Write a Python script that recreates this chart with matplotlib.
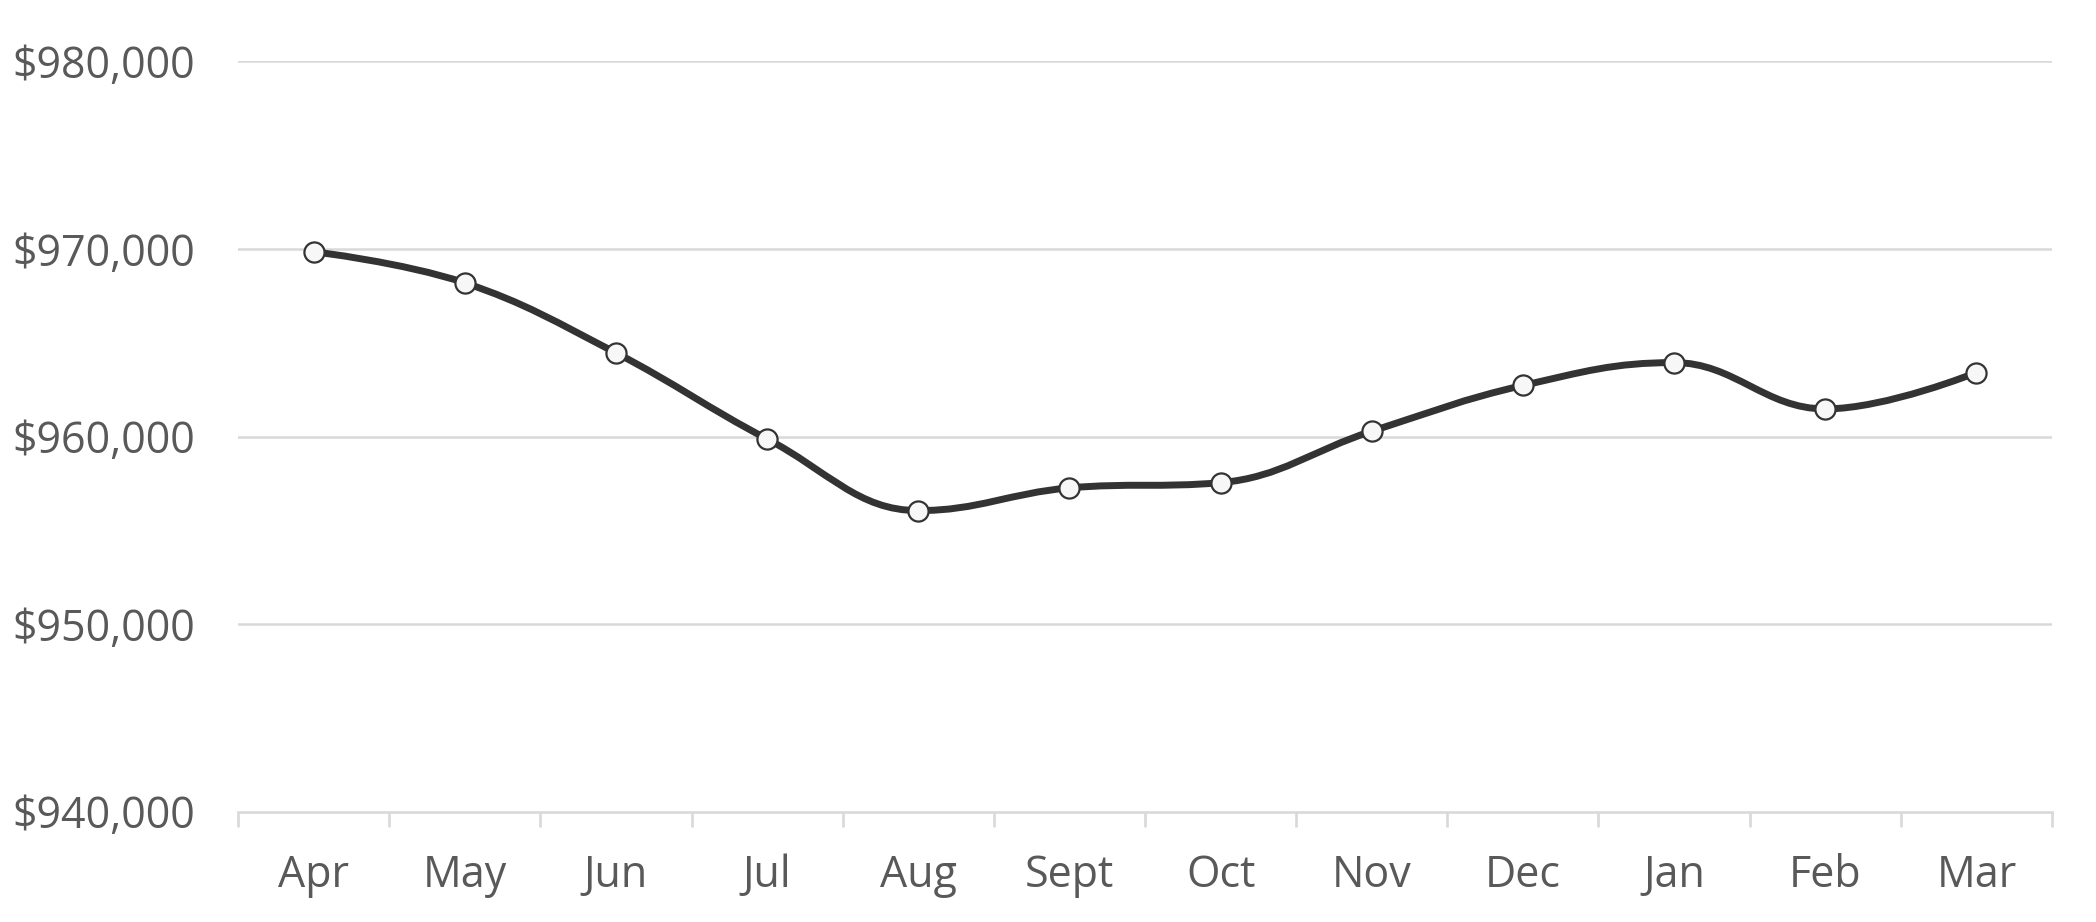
import matplotlib
matplotlib.use("Agg")
import matplotlib.pyplot as plt
from matplotlib.path import Path
from matplotlib.patches import PathPatch
from matplotlib.ticker import FuncFormatter, FixedLocator

months = ["Apr", "May", "Jun", "Jul", "Aug", "Sept", "Oct", "Nov", "Dec", "Jan", "Feb", "Mar"]
values = [969850, 968190, 964460, 959870, 956050, 957260, 957540, 960280, 962720, 963940, 961470, 963410]
y_ticks = [940000, 950000, 960000, 970000, 980000]

plt.rcParams['font.family'] = ['Open Sans', 'DejaVu Sans']

W, H, DPI = 2096, 922, 100
fig = plt.figure(figsize=(W / DPI, H / DPI), dpi=DPI)
left, right, top, bottom = 238, 2052, 61.3, 811.7
ax = fig.add_axes([left / W, 1 - bottom / H, (right - left) / W, (bottom - top) / H])

xs = list(range(len(values)))

# Highcharts-style spline
def spline_path(x, y, smoothing=1.5):
    denom = smoothing + 1
    n = len(x)
    rc = [None] * n
    verts = [(x[0], y[0])]
    codes = [Path.MOVETO]
    for i in range(1, n):
        px, py = x[i], y[i]
        lcx, lcy = px, py
        if i < n - 1:
            lx, ly, nx, ny = x[i - 1], y[i - 1], x[i + 1], y[i + 1]
            lcx = (smoothing * px + lx) / denom
            lcy = (smoothing * py + ly) / denom
            rcx = (smoothing * px + nx) / denom
            rcy = (smoothing * py + ny) / denom
            corr = 0
            if rcx != lcx:
                corr = (rcy - lcy) * (rcx - px) / (rcx - lcx) + py - rcy
            lcy += corr
            rcy += corr
            if lcy > ly and lcy > py:
                lcy = max(ly, py); rcy = 2 * py - lcy
            elif lcy < ly and lcy < py:
                lcy = min(ly, py); rcy = 2 * py - lcy
            if rcy > ny and rcy > py:
                rcy = max(ny, py); lcy = 2 * py - rcy
            elif rcy < ny and rcy < py:
                rcy = min(ny, py); lcy = 2 * py - rcy
            rc[i] = (rcx, rcy)
        c1 = rc[i - 1] if rc[i - 1] is not None else (x[i - 1], y[i - 1])
        verts += [c1, (lcx, lcy), (px, py)]
        codes += [Path.CURVE4] * 3
    return Path(verts, codes)

grid_color = "#d9d9d9"
text_color = "#595959"

ax.set_xlim(-0.5, len(values) - 0.5)
ax.set_ylim(y_ticks[0], y_ticks[-1])

for v in y_ticks[1:]:
    ax.axhline(v, color=grid_color, lw=1.8, zorder=1)

ax.add_patch(PathPatch(spline_path(xs, values), facecolor="none", edgecolor="#333333",
                       lw=5, zorder=3, capstyle="round", joinstyle="round"))
ax.plot(xs, values, linestyle="none", marker="o", markersize=14.5,
        markerfacecolor="#f7f7f7", markeredgecolor="#333333", markeredgewidth=1.6, zorder=4)

for s in ["top", "right", "left"]:
    ax.spines[s].set_visible(False)
ax.spines["bottom"].set_color(grid_color)
ax.spines["bottom"].set_linewidth(1.9)

ax.xaxis.set_major_locator(FixedLocator(xs))
ax.set_xticklabels(months)
ax.xaxis.set_minor_locator(FixedLocator([i - 0.5 for i in range(len(values) + 1)]))
ax.tick_params(axis="x", which="major", length=0, pad=30, labelsize=31, labelcolor=text_color)
ax.tick_params(axis="x", which="minor", length=11, width=1.9, color=grid_color)

ax.set_yticks(y_ticks)
ax.yaxis.set_major_formatter(FuncFormatter(lambda v, p: "${:,.0f}".format(v)))
ax.tick_params(axis="y", length=0, pad=31, labelsize=31, labelcolor=text_color)
for lab in ax.get_yticklabels():
    lab.set_horizontalalignment("right")

fig.savefig("out.png", dpi=DPI, facecolor="white")
